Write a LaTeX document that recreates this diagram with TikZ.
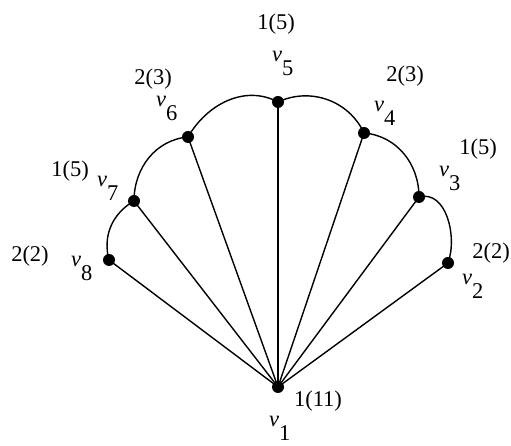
\documentclass[tikz,border=0pt]{standalone}
\usepackage{fontspec}
\setmainfont{Liberation Serif}
\begin{document}
\begin{tikzpicture}[x=1pt,y=1pt,
  vtx/.style={circle,fill=black,inner sep=0pt,minimum size=12pt},
  edge/.style={line width=1.4pt},
  lbl/.style={inner sep=0pt,anchor=base,font=\fontsize{22.5}{26}\selectfont},
  vl/.style={inner sep=0pt,anchor=base west,font=\fontsize{22.5}{26}\selectfont}]
\useasboundingbox (0,0) rectangle (511,446);
\newcommand{\vlab}[1]{\textit{v}\raisebox{-14pt}{#1}}
% vertices
\node[vtx] (v1) at (278,59) {};
\node[vtx] (v2) at (448,183) {};
\node[vtx] (v3) at (419,249) {};
\node[vtx] (v4) at (364,313) {};
\node[vtx] (v5) at (278,344) {};
\node[vtx] (v6) at (188,309) {};
\node[vtx] (v7) at (134,245) {};
\node[vtx] (v8) at (109,186) {};
% spokes
\foreach \v in {v2,v3,v4,v5,v6,v7,v8}
  \draw[edge] (v1.center) -- (\v.center);
% outer curves
\draw[edge] (v8.center) to[out=105,in=210] (v7.center);
\draw[edge] (v7.center) to[out=90,in=185] (v6.center);
\draw[edge] (v6.center) to[out=60,in=152] (v5.center);
\draw[edge] (v5.center) to[out=25,in=115] (v4.center);
\draw[edge] (v4.center) to[out=-5,in=90] (v3.center);
\draw[edge] (v3.center) to[out=15,in=70] (v2.center);
% number labels
\node[lbl] (n5) at (276,416) {1(5)};
\node[lbl] (n4) at (405,364) {2(3)};
\node[lbl] (n3) at (478,291) {1(5)};
\node[lbl] (n2) at (491,187) {2(2)};
\node[lbl] (n1) at (318,39) {1(11)};
\node[lbl] (n6) at (153,361) {2(3)};
\node[lbl] (n7) at (70,269) {1(5)};
\node[lbl] (n8) at (30,184) {2(2)};
% vertex name labels
\node[vl] (l5) at (272,384) {\vlab{5}};
\node[vl] (l4) at (374,334) {\vlab{4}};
\node[vl] (l3) at (439,269) {\vlab{3}};
\node[vl] (l2) at (462,161) {\vlab{2}};
\node[vl] (l1) at (269,19) {\vlab{1}};
\node[vl] (l6) at (156,339) {\vlab{6}};
\node[vl] (l7) at (97,259) {\vlab{7}};
\node[vl] (l8) at (71,179) {\vlab{8}};
\end{tikzpicture}
\end{document}
